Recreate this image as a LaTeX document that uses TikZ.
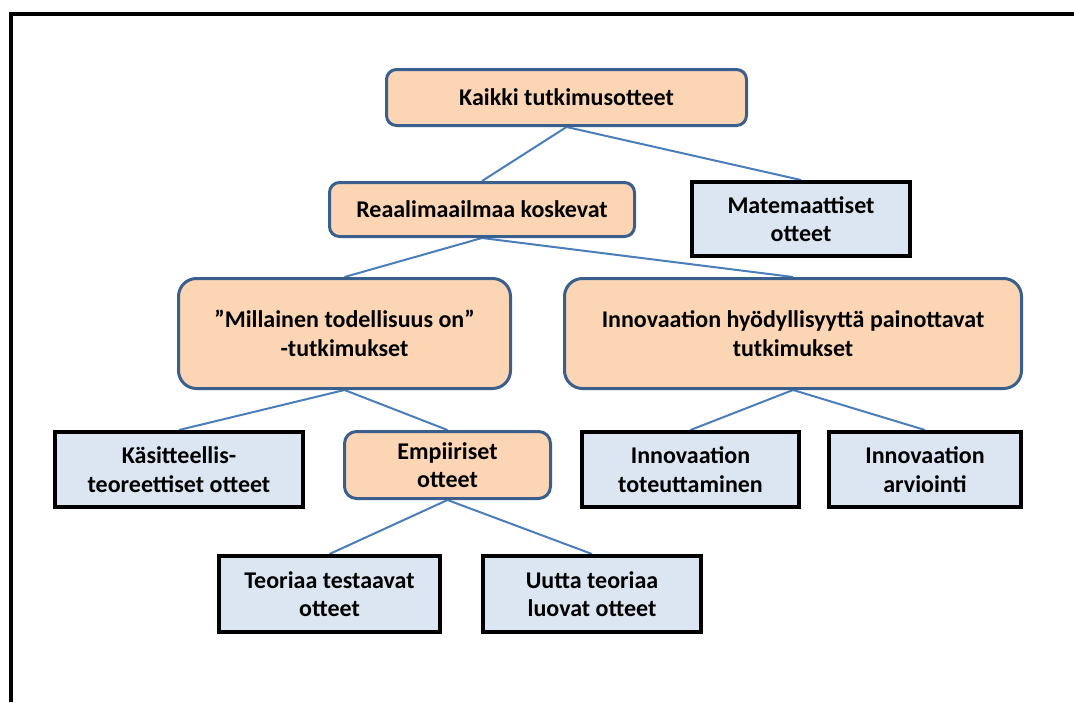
\documentclass[tikz,border=0pt]{standalone}
\usepackage{fontspec}
\setmainfont{Carlito}
\usetikzlibrary{backgrounds}
\definecolor{peach}{HTML}{FCD5B5}
\definecolor{boxblue}{HTML}{3B5F8C}
\definecolor{paleblue}{HTML}{DCE6F2}
\definecolor{linkblue}{HTML}{4A7EBB}
\begin{document}
\begin{tikzpicture}[x=1pt,y=-1pt,
  txt/.style={align=center, inner sep=0pt, font=\fontsize{24}{28.5}\selectfont\bfseries},
  orangebox/.style={txt, draw=boxblue, fill=peach, line width=3pt},
  graybox/.style={txt, draw=black, fill=paleblue, line width=4pt},
  link/.style={draw=linkblue, line width=2pt}]
\useasboundingbox (0,0) rectangle (1074,702);
% page frame
\draw[line width=4pt] (11,702) -- (11,14) -- (1074,14);

% top level
\node[orangebox, rounded corners=10pt, minimum width=360pt, minimum height=56pt]
  (kaikki) at (566.5,97.5) {Kaikki tutkimusotteet};
% second level
\node[orangebox, rounded corners=10pt, minimum width=305pt, minimum height=54pt]
  (reaal) at (482,209.5) {Reaalimaailmaa koskevat};
\node[graybox, minimum width=218pt, minimum height=74pt]
  (matem) at (801,219) {Matemaattiset\\otteet};
% third level
\node[orangebox, rounded corners=18pt, minimum width=332pt, minimum height=110pt]
  (millainen) at (344.5,333.5) {”Millainen todellisuus on”\\-tutkimukset};
\node[orangebox, rounded corners=18pt, minimum width=457pt, minimum height=110pt]
  (innov) at (793,333.5) {Innovaation hyödyllisyyttä painottavat\\tutkimukset};
% fourth level
\node[graybox, minimum width=248pt, minimum height=75pt]
  (kasit) at (179,469.5) {Käsitteellis-\\teoreettiset otteet};
\node[orangebox, rounded corners=12pt, minimum width=206pt, minimum height=67pt]
  (empi) at (447.5,465) {Empiiriset\\otteet};
\node[graybox, minimum width=217pt, minimum height=75pt]
  (toteut) at (690.5,469.5) {Innovaation\\toteuttaminen};
\node[graybox, minimum width=192pt, minimum height=75pt]
  (arvi) at (925,469.5) {Innovaation\\arviointi};
% fifth level
\node[graybox, minimum width=221pt, minimum height=76pt]
  (teoria) at (329.5,594) {Teoriaa testaavat\\otteet};
\node[graybox, minimum width=218pt, minimum height=76pt]
  (uutta) at (592,594) {Uutta teoriaa\\luovat otteet};

% tree connectors
\begin{scope}[on background layer]
  \draw[link] (kaikki.south) -- (reaal.north);
  \draw[link] (kaikki.south) -- (matem.north);
  \draw[link] (reaal.south) -- (millainen.north);
  \draw[link] (reaal.south) -- (innov.north);
  \draw[link] (millainen.south) -- (kasit.north);
  \draw[link] (millainen.south) -- (empi.north);
  \draw[link] (innov.south) -- (toteut.north);
  \draw[link] (innov.south) -- (arvi.north);
  \draw[link] (empi.south) -- (teoria.north);
  \draw[link] (empi.south) -- (uutta.north);
\end{scope}
\end{tikzpicture}
\end{document}
